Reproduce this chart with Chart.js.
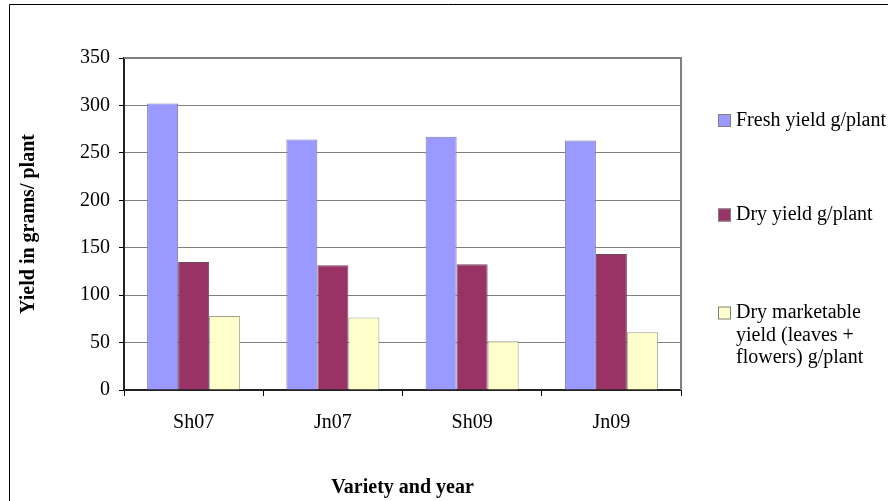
<!DOCTYPE html>
<html>
<head>
<meta charset="utf-8">
<script src="https://cdn.jsdelivr.net/npm/chart.js@4/dist/chart.umd.min.js"></script>
<style>
  html, body { margin: 0; padding: 0; background: #fff; }
  #c { display: block; }
</style>
</head>
<body>
<canvas id="c" width="888" height="501"></canvas>
<script>
const categories = ['Sh07', 'Jn07', 'Sh09', 'Jn09'];
const freshYield = [302, 264, 267, 263];
const dryYield = [135, 131.5, 132.5, 143.5];
const dryMarketable = [78, 76.5, 51.5, 61];
const seriesLabels = [
  ['Fresh yield g/plant'],
  ['Dry yield g/plant'],
  ['Dry marketable', 'yield (leaves +', 'flowers) g/plant']
];
const yTicks = [0, 50, 100, 150, 200, 250, 300, 350];
const xTitle = 'Variety and year';
const yTitle = 'Yield in grams/ plant';

const FONT = '"Liberation Serif", "Times New Roman", serif';
const colors = ['#9999FF', '#993366', '#FFFFCC'];
const borders = ['#7a7aa8', '#6e4a5c', '#a0a090'];

const decorPlugin = {
  id: 'decor',
  beforeDraw(chart) {
    const ctx = chart.ctx;
    ctx.save();
    ctx.fillStyle = '#fff';
    ctx.fillRect(0, 0, chart.width, chart.height);
    ctx.strokeStyle = '#000';
    ctx.lineWidth = 1;
    ctx.beginPath();
    ctx.moveTo(9.5, chart.height);
    ctx.lineTo(9.5, 4.5);
    ctx.lineTo(chart.width, 4.5);
    ctx.stroke();
    ctx.restore();
  },
  afterDraw(chart) {
    const ctx = chart.ctx;
    const a = chart.chartArea;
    ctx.save();
    ctx.strokeStyle = '#808080';
    ctx.lineWidth = 2;
    ctx.beginPath();
    ctx.moveTo(a.left, a.top);
    ctx.lineTo(a.right, a.top);
    ctx.lineTo(a.right, a.bottom);
    ctx.stroke();

    // legend
    const boxX = a.right + 37;
    const textX = a.right + 55;
    const lineH = 22.5;
    const starts = [120.5, 215, 313];
    ctx.font = '20px ' + FONT;
    ctx.textBaseline = 'middle';
    ctx.textAlign = 'left';
    chart.data.datasets.forEach((ds, i) => {
      const y0 = starts[i];
      ctx.fillStyle = ds.backgroundColor;
      ctx.fillRect(boxX, y0 - 6.5, 13, 13);
      ctx.strokeStyle = '#808080';
      ctx.lineWidth = 1;
      ctx.strokeRect(boxX + 0.5, y0 - 6.5 + 0.5, 12, 12);
      ctx.fillStyle = '#000';
      seriesLabels[i].forEach((ln, j) => {
        ctx.fillText(ln, textX, y0 + j * lineH);
      });
    });
    ctx.restore();
  }
};

new Chart(document.getElementById('c'), {
  type: 'bar',
  data: {
    labels: categories,
    datasets: [
      { label: seriesLabels[0].join(' '), data: freshYield, backgroundColor: colors[0], borderColor: borders[0], borderWidth: 1 },
      { label: seriesLabels[1].join(' '), data: dryYield, backgroundColor: colors[1], borderColor: borders[1], borderWidth: 1 },
      { label: seriesLabels[2].join(' '), data: dryMarketable, backgroundColor: colors[2], borderColor: borders[2], borderWidth: 1 }
    ]
  },
  options: {
    responsive: false,
    animation: false,
    layout: { padding: { left: 0, top: 58, right: 207, bottom: 0 } },
    datasets: { bar: { categoryPercentage: 0.668, barPercentage: 1.0 } },
    plugins: { legend: { display: false }, tooltip: { enabled: false } },
    scales: {
      x: {
        grid: { offset: true, drawOnChartArea: false, drawTicks: true, tickLength: 6, tickColor: '#000', tickWidth: 1 },
        border: { display: true, color: '#222', width: 2 },
        ticks: { color: '#000', font: { family: FONT, size: 20 }, padding: 15 },
        title: { display: true, text: xTitle, color: '#000', font: { family: FONT, size: 20, weight: 'bold' }, padding: { top: 0, bottom: 1 } },
        afterFit(s) { s.height = 111; }
      },
      y: {
        min: 0,
        max: 350,
        afterBuildTicks(s) { s.ticks = yTicks.map(v => ({ value: v })); },
        grid: { color: '#808080', lineWidth: 1, drawTicks: true, tickLength: 5, tickColor: '#000' },
        border: { display: true, color: '#222', width: 2 },
        ticks: { color: '#000', font: { family: FONT, size: 20 }, padding: 9 },
        title: { display: true, text: yTitle, color: '#000', font: { family: FONT, size: 20, weight: 'bold' }, padding: { top: 17, bottom: 0 } },
        afterFit(s) { s.width = 124; }
      }
    }
  },
  plugins: [decorPlugin]
});
</script>
</body>
</html>
